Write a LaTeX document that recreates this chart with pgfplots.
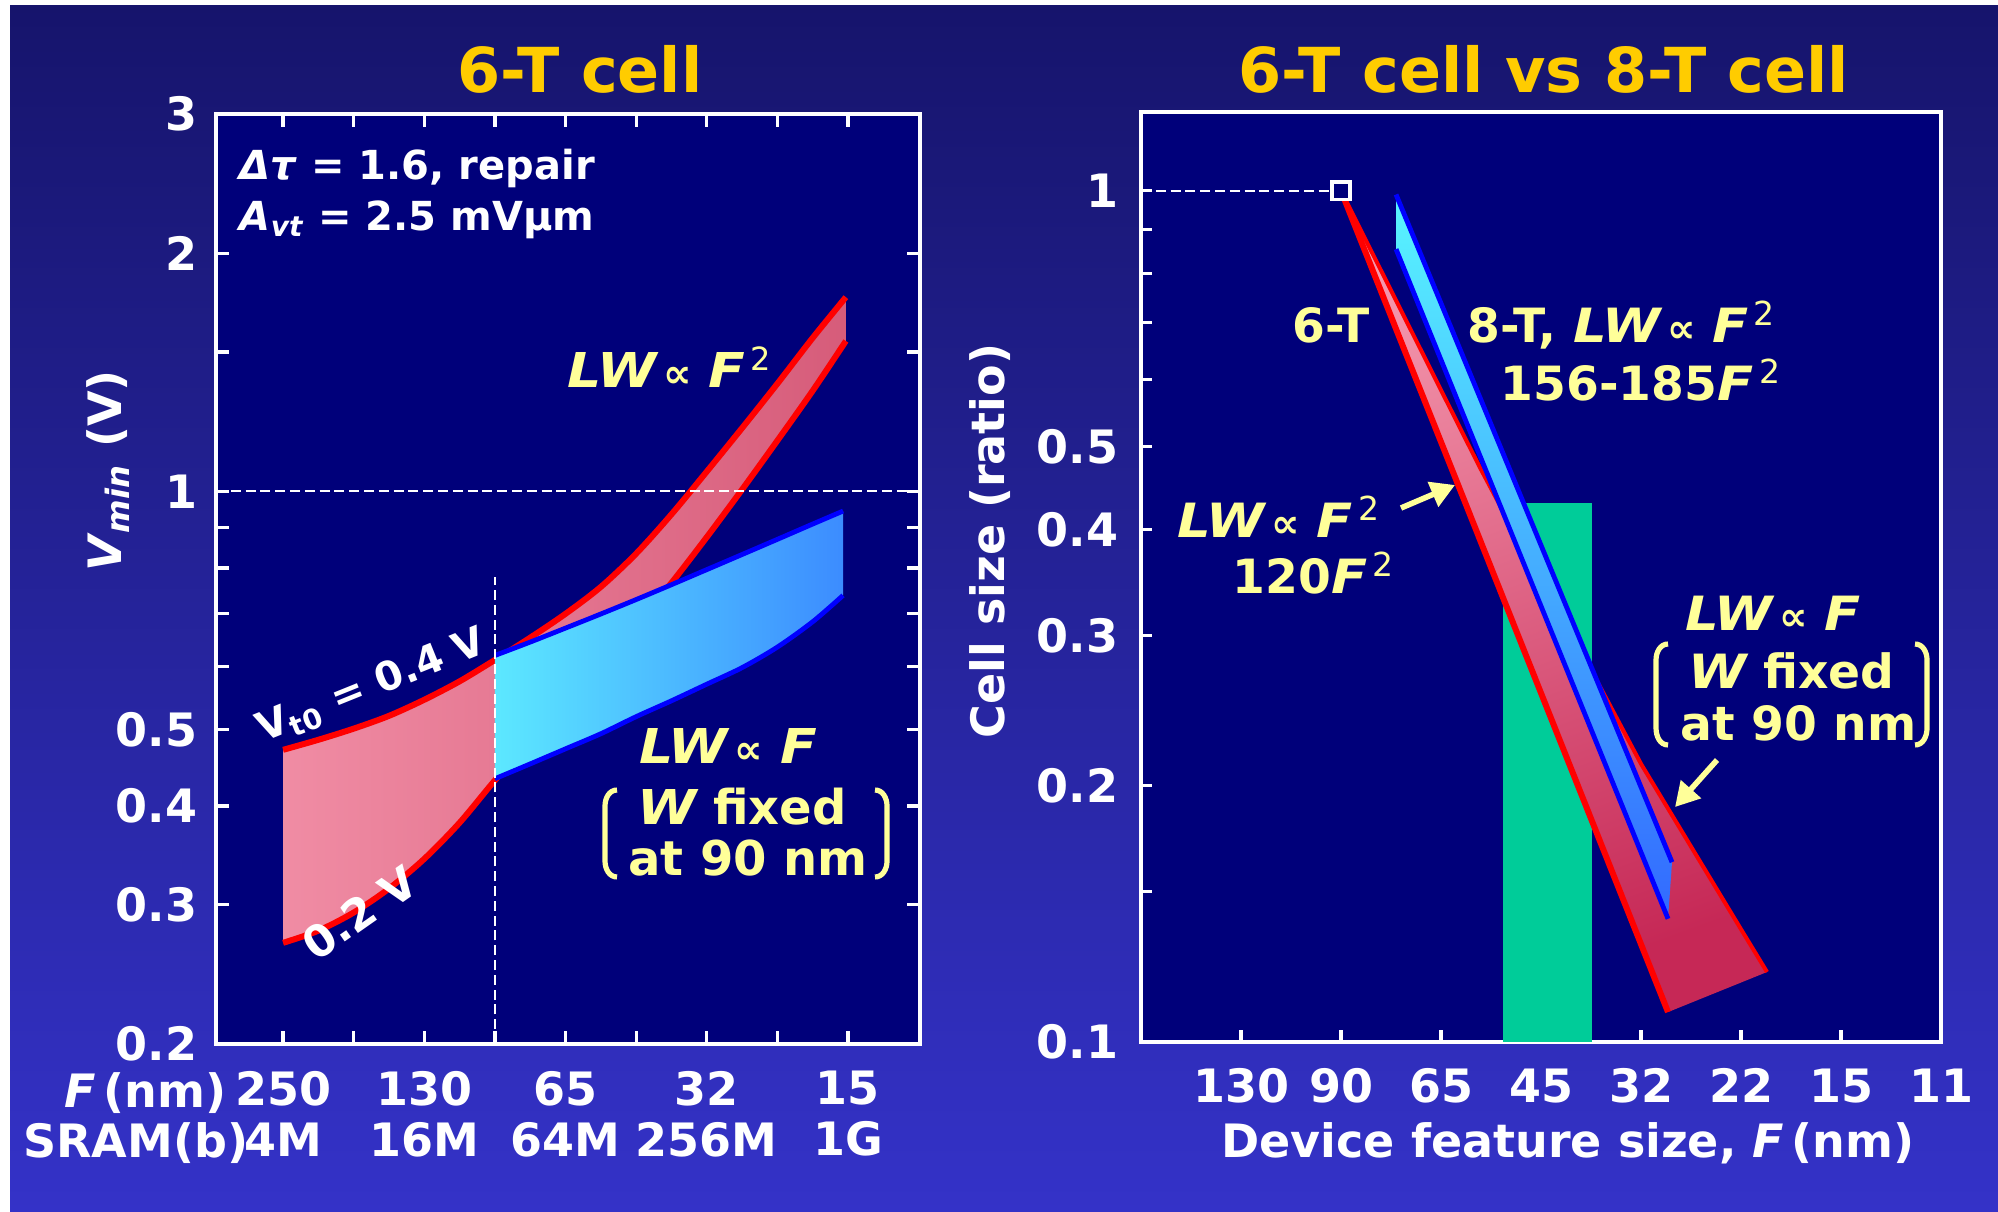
\documentclass[border=0pt]{standalone}
\usepackage{pgfplots}
\pgfplotsset{compat=1.18}
\usepackage{graphicx}
\usepackage{fontspec}
\setmainfont{DejaVu Sans}
\usetikzlibrary{arrows.meta}
\definecolor{bgtop}{RGB}{22,20,108}
\definecolor{bgbot}{RGB}{52,50,200}
\definecolor{navy}{RGB}{0,0,122}
\definecolor{gold}{RGB}{255,204,0}
\definecolor{annot}{RGB}{255,255,153}
\definecolor{pinkL}{RGB}{240,140,164}
\definecolor{pinkD}{RGB}{214,92,122}
\definecolor{pinkT}{RGB}{244,152,174}
\definecolor{pinkB}{RGB}{198,40,86}
\definecolor{cyanL}{RGB}{92,232,255}
\definecolor{blueR}{RGB}{60,140,255}
\definecolor{cyanT}{RGB}{88,245,255}
\definecolor{blueB}{RGB}{50,105,255}
\definecolor{teal}{RGB}{0,204,153}
\newcommand{\fs}[1]{\fontsize{#1}{#1}\selectfont\bfseries}
\newcommand{\iw}[1]{\scalebox{1.12}[1]{\itshape #1}}
\newcommand{\prop}{{\upshape\fontsize{10}{10}\selectfont\,∝}}
\newcommand{\sq}{\textsuperscript{\mdseries\,2}}
\begin{document}
\begin{tikzpicture}
\begin{scope}[x=0.25pt,y=-0.25pt,yshift=302.75pt]
\fill[white] (0,0) rectangle (1998,1211);
\shade[top color=bgtop,bottom color=bgbot] (10,6) rectangle (1998,1211);
\end{scope}

% ---------------- left axis ----------------
\begin{axis}[
  at={(54pt,41.75pt)}, anchor=south west, scale only axis,
  width=176pt, height=232.5pt,
  xmin=-0.95, xmax=9.02, ymin=0.2, ymax=3, ymode=log,
  axis background/.style={fill=navy},
  axis line style={white, line width=1pt},
  xtick={0,...,8},
  xticklabels={{250\\4M},{},{130\\16M},{},{65\\64M},{},{32\\256M},{},{15\\1G}},
  ytick={0.2,0.3,0.4,0.5,1,2,3},
  yticklabels={0.2,0.3,0.4,0.5,1,2,3},
  minor ytick={0.6,0.7,0.8,0.9,1.5},
  tick align=inside, tickpos=both,
  major tick length=3.2pt, minor tick length=3.2pt,
  every tick/.style={white, line width=0.8pt},
  minor tick style={white, line width=0.8pt},
  every tick label/.append style={white, font=\fontsize{11.5}{12.75}\selectfont\bfseries},
  xticklabel style={align=center, yshift=-3.3pt},
  yticklabel style={xshift=-1.2pt},
]
% red band (LW ~ F^2)
\addplot[draw=none, left color=pinkL, right color=pinkD] coordinates {
 (0,0.471) (0.5,0.485) (1,0.501) (1.5,0.520) (2,0.545) (2.5,0.575) (3,0.612) (3.5,0.653) (4,0.700) (4.5,0.757) (5,0.834) (5.5,0.935) (6,1.059) (6.5,1.202) (7,1.368) (7.5,1.563) (7.97,1.76)
 (7.97,1.549) (7.5,1.340) (7,1.159) (6.5,1.005) (6,0.875) (5.5,0.766) (5,0.679) (4.5,0.605) (4,0.541) (3.5,0.483) (3,0.431) (2.5,0.381) (2,0.343) (1.5,0.3145) (1,0.2933) (0.5,0.2782) (0,0.2685)
} --cycle;
\addplot[red, line width=1.5pt, smooth] coordinates {
 (0,0.471) (0.5,0.485) (1,0.501) (1.5,0.520) (2,0.545) (2.5,0.575) (3,0.612) (3.5,0.653) (4,0.700) (4.5,0.757) (5,0.834) (5.5,0.935) (6,1.059) (6.5,1.202) (7,1.368) (7.5,1.563) (7.97,1.76)};
\addplot[red, line width=1.5pt, smooth] coordinates {
 (0,0.2685) (0.5,0.2782) (1,0.2933) (1.5,0.3145) (2,0.343) (2.5,0.381) (3,0.431) (3.5,0.483) (4,0.541) (4.5,0.605) (5,0.679) (5.5,0.766) (6,0.875) (6.5,1.005) (7,1.159) (7.5,1.340) (7.97,1.549)};
% blue band (LW ~ F)
\addplot[draw=none, left color=cyanL, right color=blueR] coordinates {
 (3,0.620) (3.5,0.6447) (4,0.6714) (4.5,0.6996) (5,0.7296) (5.5,0.7619) (6,0.7961) (6.5,0.8318) (7,0.8694) (7.5,0.909) (7.93,0.944)
 (7.93,0.7385) (7.5,0.6839) (7,0.6353) (6.5,0.5984) (6,0.5702) (5.5,0.5433) (5,0.5188) (4.5,0.4936) (4,0.4724) (3.5,0.4521) (3,0.433)
} --cycle;
\addplot[blue, line width=1.2pt, smooth] coordinates {
 (3,0.620) (3.5,0.6447) (4,0.6714) (4.5,0.6996) (5,0.7296) (5.5,0.7619) (6,0.7961) (6.5,0.8318) (7,0.8694) (7.5,0.909) (7.93,0.944)};
\addplot[blue, line width=1.2pt, smooth] coordinates {
 (3,0.433) (3.5,0.4521) (4,0.4724) (4.5,0.4936) (5,0.5188) (5.5,0.5433) (6,0.5702) (6.5,0.5984) (7,0.6353) (7.5,0.6839) (7.93,0.7385)};
% dashed guides
\addplot[white, line width=0.5pt, dash pattern=on 2.5pt off 1.2pt] coordinates {(-0.95,1) (9.02,1)};
\addplot[white, line width=0.5pt, dash pattern=on 2.5pt off 1.2pt] coordinates {(3,0.2) (3,0.78)};
\end{axis}

% ---------------- right axis ----------------
\begin{axis}[
  at={(285.25pt,42.375pt)}, anchor=south west, scale only axis,
  width=200pt, height=232.4pt,
  xmin=0, xmax=8, ymin=0.1, ymax=1.238, ymode=log,
  axis background/.style={fill=navy},
  axis line style={white, line width=1pt},
  xtick={1,...,8},
  xticklabels={130,90,65,45,32,22,15,11},
  ytick={0.1,0.2,0.3,0.4,0.5,1},
  yticklabels={0.1,0.2,0.3,0.4,0.5,1},
  minor ytick={0.15,0.6,0.7,0.8,0.9},
  tick align=inside, xtick pos=bottom, ytick pos=left,
  major tick length=2.8pt, minor tick length=2.8pt,
  every tick/.style={white, line width=0.8pt},
  minor tick style={white, line width=0.8pt},
  every tick label/.append style={white, font=\fontsize{11.5}{12.75}\selectfont\bfseries},
  xticklabel style={yshift=-3.3pt},
  yticklabel style={xshift=-2.2pt},
]
\addplot[fill=teal, draw=none] coordinates {(3.62,0.1) (3.62,0.43) (4.51,0.43) (4.51,0.1)} --cycle;
% 6-T band
\addplot[draw=none, top color=pinkT, bottom color=pinkB, shading angle=20] coordinates {
 (2,1) (5.27,0.1083) (6.26,0.1207) (6,0.1355) (5,0.212) (4.52,0.2708) (4,0.346) (3.39,0.4726) (3,0.583) (2,1)} --cycle;
\addplot[red, line width=1.5pt] coordinates {(2,1) (5.27,0.1083)};
\addplot[red, line width=1.0pt] coordinates {(2,1) (3,0.583) (3.39,0.4726) (4,0.346) (4.52,0.2708) (5,0.212) (6,0.1355) (6.26,0.1207)};
% 8-T band
\addplot[draw=none, top color=cyanT, bottom color=blueB] coordinates {
 (2.55,0.99) (5.31,0.1625) (5.27,0.1394) (2.55,0.854)} --cycle;
\addplot[blue, line width=1.2pt] coordinates {(2.55,0.99) (5.31,0.1625)};
\addplot[blue, line width=1.2pt] coordinates {(2.55,0.854) (5.27,0.1394)};
% reference at 90 nm
\addplot[white, line width=0.5pt, dash pattern=on 2.5pt off 1.2pt] coordinates {(0,1) (1.9,1)};
\addplot[only marks, mark=square*, mark size=2.2pt, mark options={draw=white, fill=navy, line width=0.9pt}] coordinates {(2,1)};
\end{axis}

% ---------------- annotations ----------------
\begin{scope}[x=0.25pt,y=-0.25pt,yshift=302.75pt]
\node[anchor=base, gold, font=\fs{15.5}] at (580,93) {6-T cell};
\node[anchor=base, gold, font=\fs{15.5}] at (1544,93) {6-T cell vs 8-T cell};
\node[rotate=90, white, font=\fs{11.5}] at (108,471) {\textit{V}\textsubscript{\itshape min} (V)};
\node[rotate=90, white, font=\fs{11.5}] at (990,541) {Cell size (ratio)};
\node[anchor=base, white, font=\fs{11.5}] at (1568,1157) {Device feature size, \textit{F}\,(nm)};
\node[anchor=base east, inner sep=0pt, white, font=\fs{11.5}] at (227,1107) {\textit{F}\,(nm)};
\node[anchor=base east, inner sep=0pt, white, font=\fs{11.5}] at (249,1157) {SRAM(b)};
% left chart texts
\node[anchor=base west, inner sep=0pt, white, font=\fs{10}] at (239,180) {\textit{Δτ} = 1.6, repair};
\node[anchor=base west, inner sep=0pt, white, font=\fs{10}] at (239,231) {\textit{A}\textsubscript{\itshape vt} = 2.5 mVμm};
\node[anchor=base west, inner sep=0pt, annot, font=\fs{12}] at (567,388) {\iw{LW}\prop\ \iw{F}\sq};
\node[anchor=base, inner sep=0pt, rotate=22, white, font=\fs{10}] at (376,697) {V\textsubscript{t0} = 0.4 V};
\node[anchor=base, inner sep=0pt, rotate=35, white, font=\fs{11}] at (369,926) {0.2 V};
\node[anchor=base, inner sep=0pt, annot, font=\fs{12}] at (728,763) {\iw{LW}\prop\ \iw{F}};
\node[anchor=base, inner sep=0pt, annot, font=\fs{12}] at (742,824) {\iw{W} fixed};
\node[anchor=base, inner sep=0pt, annot, font=\fs{12}] at (748,875) {at 90 nm};
\draw[annot, line width=1.3pt] (617,790) to[out=180,in=90] (605,806) -- (605,861) to[out=-90,in=180] (617,877);
\draw[annot, line width=1.3pt] (875,790) to[out=0,in=90] (887,806) -- (887,861) to[out=-90,in=0] (875,877);
% right chart texts
\node[anchor=base, inner sep=0pt, annot, font=\fs{11.8}] at (1331,343) {6-T};
\node[anchor=base west, inner sep=0pt, annot, font=\fs{11.8}] at (1467,343) {8-T, \iw{LW}\prop\ \iw{F}\sq};
\node[anchor=base west, inner sep=0pt, annot, font=\fs{11.8}] at (1500,401) {156-185\iw{F}\sq};
\node[anchor=base west, inner sep=0pt, annot, font=\fs{11.8}] at (1177,538) {\iw{LW}\prop\ \iw{F}\sq};
\node[anchor=base west, inner sep=0pt, annot, font=\fs{11.8}] at (1232,594) {120\iw{F}\sq};
\node[anchor=base west, inner sep=0pt, annot, font=\fs{11.8}] at (1685,630) {\iw{LW}\prop\ \iw{F}};
\node[anchor=base west, inner sep=0pt, annot, font=\fs{11.8}] at (1688,688) {\iw{W} fixed};
\node[anchor=base west, inner sep=0pt, annot, font=\fs{11.8}] at (1680,740) {at 90 nm};
\draw[annot, line width=1.3pt] (1668,644) to[out=180,in=90] (1656,660) -- (1656,728) to[out=-90,in=180] (1668,745);
\draw[annot, line width=1.3pt] (1915,644) to[out=0,in=90] (1927,660) -- (1927,728) to[out=-90,in=0] (1915,745);
\draw[annot, line width=1.4pt, -{Triangle[length=6pt,width=6.5pt]}] (1401,508) -- (1455,485);
\draw[annot, line width=1.4pt, -{Triangle[length=6pt,width=6.5pt]}] (1717,760) -- (1675,807);
\end{scope}
\pgfresetboundingbox
\path[use as bounding box] (0,0) rectangle (499.5pt,302.75pt);
\end{tikzpicture}
\end{document}
